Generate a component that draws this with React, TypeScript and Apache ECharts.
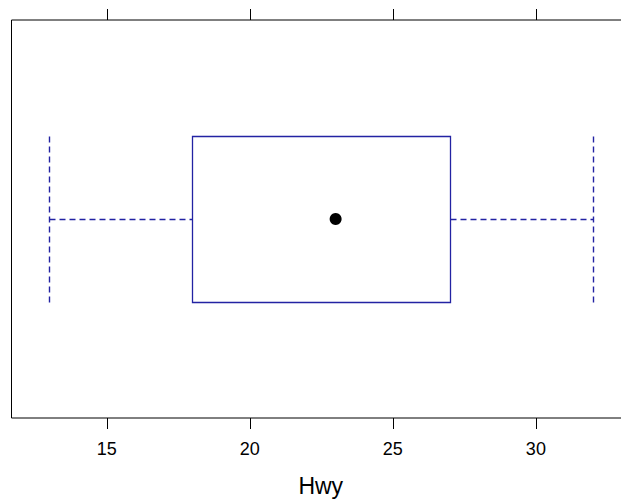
import React, { useEffect, useRef } from "react";
import * as echarts from "echarts";

// ---- data ----
const categories = ["Hwy"];
const lowerWhisker = [13];
const lowerHinge = [18];
const medianValues = [23];
const upperHinge = [27];
const upperWhisker = [32];
const tickValues = [15, 20, 25, 30];
const axisTitle = "Hwy";

// ---- style constants ----
const X_MIN = 11.67;
const X_MAX = 33.29;
const BLUE = "#2323a3";
const BOX_RATIO = 0.2075; // half box height as a fraction of band height
const FONT = "'Liberation Sans', Arial, Helvetica, sans-serif";

const snap = (v: number) => Math.round(v - 0.5) + 0.5;

export default function App() {
  const ref = useRef<HTMLDivElement>(null);

  useEffect(() => {
    if (!ref.current) return;
    const chart = echarts.init(ref.current, undefined, { renderer: "svg" });

    const boxData = categories.map((c, i) => [
      lowerWhisker[i],
      lowerHinge[i],
      medianValues[i],
      upperHinge[i],
      upperWhisker[i],
      i,
    ]);
    const dotData = categories.map((c, i) => [medianValues[i], i]);

    const option: any = {
      animation: false,
      backgroundColor: "#ffffff",
      grid: {
        left: 11.5,
        top: 20,
        width: 618.5,
        height: 400,
        show: true,
        borderColor: "#000",
        borderWidth: 1,
        backgroundColor: "transparent",
        containLabel: false,
      },
      xAxis: [
        {
          type: "value",
          position: "bottom",
          min: X_MIN,
          max: X_MAX,
          axisLine: { show: false },
          splitLine: { show: false },
          axisTick: {
            show: true,
            inside: false,
            length: 11,
            customValues: tickValues,
            lineStyle: { color: "#000", width: 1 },
          },
          axisLabel: {
            show: true,
            customValues: tickValues,
            color: "#000",
            fontSize: 18,
            fontFamily: FONT,
            margin: 22,
          },
          name: axisTitle,
          nameLocation: "middle",
          nameGap: 56,
          nameTextStyle: { color: "#000", fontSize: 23, fontFamily: FONT },
        },
        {
          type: "value",
          position: "top",
          min: X_MIN,
          max: X_MAX,
          axisLine: { show: false },
          splitLine: { show: false },
          axisTick: {
            show: true,
            inside: false,
            length: 11,
            customValues: tickValues,
            lineStyle: { color: "#000", width: 1 },
          },
          axisLabel: { show: false },
        },
      ],
      yAxis: {
        type: "category",
        data: categories,
        show: false,
        boundaryGap: true,
      },
      series: [
        {
          type: "custom",
          xAxisIndex: 0,
          yAxisIndex: 0,
          encode: { x: [0, 1, 2, 3, 4], y: 5 },
          data: boxData,
          silent: true,
          renderItem: (params: any, api: any) => {
            const lo = api.value(0);
            const q1 = api.value(1);
            const q3 = api.value(3);
            const hi = api.value(4);
            const cat = api.value(5);
            const half = api.size([0, 1])[1] * BOX_RATIO;
            const xLo = snap(api.coord([lo, cat])[0]);
            const xQ1 = snap(api.coord([q1, cat])[0]);
            const xQ3 = snap(api.coord([q3, cat])[0]);
            const xHi = snap(api.coord([hi, cat])[0]);
            const cy = snap(api.coord([q1, cat])[1]);
            const yTop = snap(cy - half);
            const yBot = snap(cy + half);
            const dash = [6, 4];
            const solid = { fill: "none", stroke: BLUE, lineWidth: 1.3 };
            const dashed = { fill: "none", stroke: BLUE, lineWidth: 1.4, lineDash: dash };
            return {
              type: "group",
              children: [
                {
                  type: "rect",
                  shape: { x: xQ1, y: yTop, width: xQ3 - xQ1, height: yBot - yTop },
                  style: solid,
                },
                { type: "line", shape: { x1: xLo, y1: cy, x2: xQ1, y2: cy }, style: dashed },
                { type: "line", shape: { x1: xQ3, y1: cy, x2: xHi, y2: cy }, style: dashed },
                { type: "line", shape: { x1: xLo, y1: yTop, x2: xLo, y2: yBot }, style: dashed },
                { type: "line", shape: { x1: xHi, y1: yTop, x2: xHi, y2: yBot }, style: dashed },
              ],
            };
          },
          z: 2,
        },
        {
          type: "scatter",
          xAxisIndex: 0,
          yAxisIndex: 0,
          data: dotData,
          symbol: "circle",
          symbolSize: 12,
          silent: true,
          itemStyle: { color: "#000", opacity: 1 },
          z: 3,
        },
      ],
    };

    chart.setOption(option);
    return () => chart.dispose();
  }, []);

  return (
    <div style={{ position: "fixed", left: 0, top: 0, width: 621, height: 502, overflow: "hidden", background: "#fff" }}>
      <div ref={ref} style={{ width: 650, height: 502 }} />
    </div>
  );
}
